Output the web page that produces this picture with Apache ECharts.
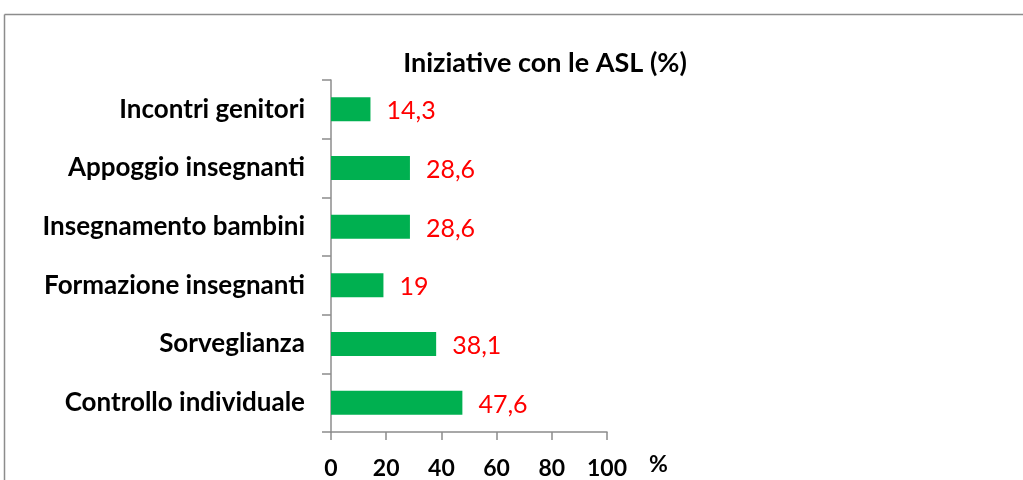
<!DOCTYPE html>
<html>
<head>
<meta charset="utf-8">
<script src="https://cdn.jsdelivr.net/npm/echarts@6/dist/echarts.min.js"></script>
<style>
  html, body { margin: 0; padding: 0; background: #fff; }
  #chart { width: 1023px; height: 480px; }
</style>
</head>
<body>
<div id="chart"></div>
<script>
// dati (dal basso verso l'alto come nell'asse)
var categories = ['Controllo individuale', 'Sorveglianza', 'Formazione insegnanti',
                  'Insegnamento bambini', 'Appoggio insegnanti', 'Incontri genitori'];
var values = [47.6, 38.1, 19, 28.6, 28.6, 14.3];
var xTicks = [0, 20, 40, 60, 80, 100];

var FONT = 'Lato, "Open Sans", sans-serif';

var myChart = echarts.init(document.getElementById('chart'));

var option = {
  animation: false,
  title: {
    text: 'Iniziative con le ASL (%)',
    left: 540,
    top: 45,
    textAlign: 'center',
    textStyle: { fontFamily: FONT, fontSize: 27, fontWeight: 'bold', color: '#000' }
  },
  grid: { left: 331, right: 416, top: 80, bottom: 48, containLabel: false },
  xAxis: {
    type: 'value',
    min: xTicks[0],
    max: xTicks[xTicks.length - 1],
    interval: 20,
    splitLine: { show: false },
    axisLine: { show: true, lineStyle: { color: '#8c8c8c', width: 1.5 } },
    axisTick: { show: true, length: 8, lineStyle: { color: '#8c8c8c', width: 1.5 } },
    axisLabel: {
      margin: 25,
      fontFamily: FONT, fontSize: 23, fontWeight: 'bold', color: '#000'
    }
  },
  yAxis: {
    type: 'category',
    data: categories,
    axisLine: { show: true, lineStyle: { color: '#8c8c8c', width: 1.5 } },
    axisTick: { show: true, length: 9, alignWithLabel: false, lineStyle: { color: '#8c8c8c', width: 1.5 } },
    axisLabel: {
      margin: 26,
      fontFamily: FONT, fontSize: 26, fontWeight: 'bold', color: '#000'
    }
  },
  series: [{
    type: 'bar',
    data: values,
    barWidth: 24,
    itemStyle: { color: '#00B050' },
    label: {
      show: true,
      position: 'right',
      distance: 16,
      offset: [0, 2],
      fontFamily: FONT, fontSize: 25, color: '#FF0000',
      formatter: function (p) { return String(p.value).replace('.', ','); }
    }
  }],
  graphic: [
    { type: 'line', shape: { x1: 4.5, y1: 14.5, x2: 1023, y2: 14.5 }, style: { stroke: '#8c8c8c', lineWidth: 1.5 } },
    { type: 'line', shape: { x1: 4.5, y1: 14.5, x2: 4.5, y2: 480 }, style: { stroke: '#8c8c8c', lineWidth: 1.5 } },
    { type: 'text', left: 649, top: 453,
      style: { text: '%', fontFamily: FONT, fontSize: 23, fontWeight: 'bold', fill: '#000' } }
  ]
};

myChart.setOption(option);
</script>
</body>
</html>
